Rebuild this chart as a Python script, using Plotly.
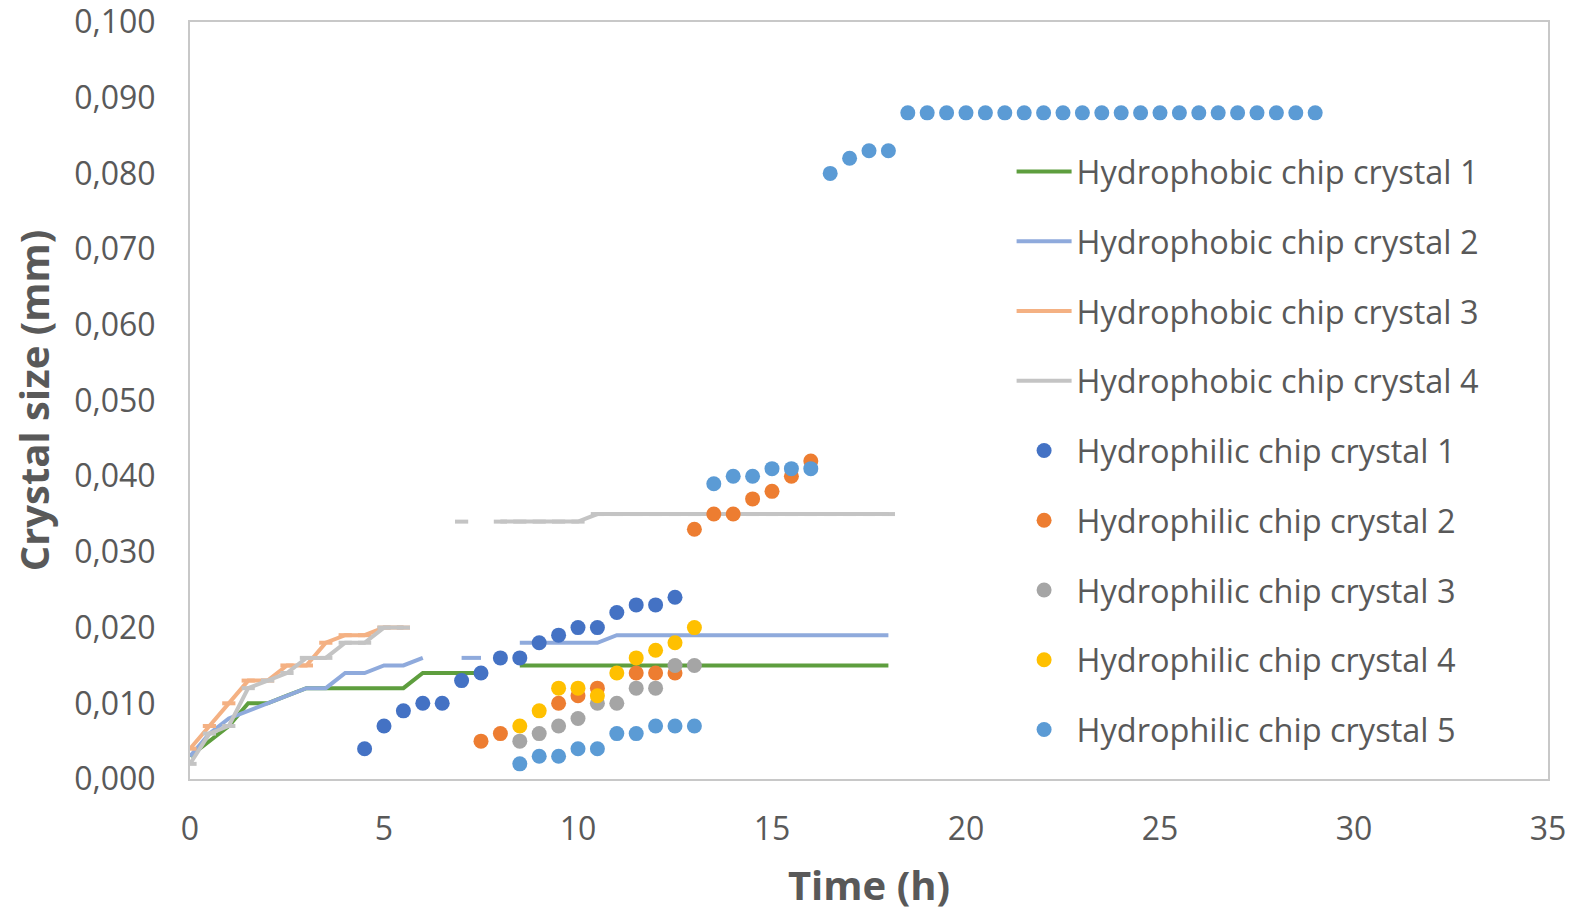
import plotly.graph_objects as go

# ---- hydrophobic chip (lines), sampled every 0.5 h ----
t_phobic = [0.0, 0.5, 1.0, 1.5, 2.0, 2.5, 3.0, 3.5, 4.0, 4.5, 5.0, 5.5, 6.0, 6.5,
            7.0, 7.5, 8.0, 8.5, 9.0, 9.5, 10.0, 10.5, 11.0, 11.5, 12.0, 12.5, 13.0,
            13.5, 14.0, 14.5, 15.0, 15.5, 16.0, 16.5, 17.0, 17.5, 18.0]

phobic_1 = [0.003, 0.005, 0.007, 0.010, 0.010, 0.011, 0.012, 0.012, 0.012, 0.012,
            0.012, 0.012, 0.014, 0.014, 0.014, 0.014, None, 0.015, 0.015, 0.015,
            0.015, 0.015, 0.015, 0.015, 0.015, 0.015, 0.015, 0.015, 0.015, 0.015,
            0.015, 0.015, 0.015, 0.015, 0.015, 0.015, 0.015]

phobic_2 = [0.003, 0.006, 0.008, 0.009, 0.010, 0.011, 0.012, 0.012, 0.014, 0.014,
            0.015, 0.015, 0.016, None, 0.016, 0.016, None, 0.018, 0.018, 0.018,
            0.018, 0.018, 0.019, 0.019, 0.019, 0.019, 0.019, 0.019, 0.019, 0.019,
            0.019, 0.019, 0.019, 0.019, 0.019, 0.019, 0.019]

t_phobic_3 = [0.0, 0.5, 1.0, 1.5, 2.0, 2.5, 3.0, 3.5, 4.0, 4.5, 5.0, 5.5]
phobic_3 = [0.004, 0.007, 0.010, 0.013, 0.013, 0.015, 0.015, 0.018, 0.019, 0.019,
            0.020, 0.020]

phobic_4 = [0.002, 0.006, 0.007, 0.012, 0.013, 0.014, 0.016, 0.016, 0.018, 0.018,
            0.020, 0.020, None, None, 0.034, None, 0.034, 0.034, 0.034, 0.034,
            0.034, 0.035, 0.035, 0.035, 0.035, 0.035, 0.035, 0.035, 0.035, 0.035,
            0.035, 0.035, 0.035, 0.035, 0.035, 0.035, 0.035]

# half-width of the time window for each reading (h)
time_window = 0.17

# ---- hydrophilic chip (markers) ----
t_philic_1 = [4.5, 5.0, 5.5, 6.0, 6.5, 7.0, 7.5, 8.0, 8.5, 9.0, 9.5, 10.0, 10.5,
              11.0, 11.5, 12.0, 12.5]
philic_1 = [0.004, 0.007, 0.009, 0.010, 0.010, 0.013, 0.014, 0.016, 0.016, 0.018,
            0.019, 0.020, 0.020, 0.022, 0.023, 0.023, 0.024]

t_philic_2 = [7.5, 8.0, 8.5, 9.0, 9.5, 10.0, 10.5, 11.0, 11.5, 12.0, 12.5, 13.0,
              13.5, 14.0, 14.5, 15.0, 15.5, 16.0]
philic_2 = [0.005, 0.006, None, None, 0.010, 0.011, 0.012, None, 0.014, 0.014,
            0.014, 0.033, 0.035, 0.035, 0.037, 0.038, 0.040, 0.042]

t_philic_34 = [8.5, 9.0, 9.5, 10.0, 10.5, 11.0, 11.5, 12.0, 12.5, 13.0]
philic_3 = [0.005, 0.006, 0.007, 0.008, 0.010, 0.010, 0.012, 0.012, 0.015, 0.015]
philic_4 = [0.007, 0.009, 0.012, 0.012, 0.011, 0.014, 0.016, 0.017, 0.018, 0.020]

t_philic_5 = [8.5, 9.0, 9.5, 10.0, 10.5, 11.0, 11.5, 12.0, 12.5, 13.0, 13.5, 14.0,
              14.5, 15.0, 15.5, 16.0, 16.5, 17.0, 17.5, 18.0, 18.5, 19.0, 19.5,
              20.0, 20.5, 21.0, 21.5, 22.0, 22.5, 23.0, 23.5, 24.0, 24.5, 25.0,
              25.5, 26.0, 26.5, 27.0, 27.5, 28.0, 28.5, 29.0]
philic_5 = [0.002, 0.003, 0.003, 0.004, 0.004, 0.006, 0.006, 0.007, 0.007, 0.007,
            0.039, 0.040, 0.040, 0.041, 0.041, 0.041, 0.080, 0.082, 0.083, 0.083,
            0.088, 0.088, 0.088, 0.088, 0.088, 0.088, 0.088, 0.088, 0.088, 0.088,
            0.088, 0.088, 0.088, 0.088, 0.088, 0.088, 0.088, 0.088, 0.088, 0.088,
            0.088, 0.088]

TEXT = "#595959"
LINE_W = 4
MARKER = 15
TITLE_FONT = "Liberation Sans Narrow, Open Sans, sans-serif"

fig = go.Figure()


def add_line(name, x, y, color, window=None):
    kw = {}
    if window is not None:
        kw["error_x"] = dict(type="constant", value=window, color=color,
                             thickness=LINE_W, width=0)
    fig.add_trace(go.Scatter(x=x, y=y, name=name, mode="lines",
                             line=dict(color=color, width=LINE_W),
                             legendgroup=name, connectgaps=False, **kw))


def add_dots(name, x, y, color):
    fig.add_trace(go.Scatter(x=x, y=y, name=name, mode="markers",
                             marker=dict(color=color, size=MARKER,
                                         line=dict(width=0)),
                             legendgroup=name))


add_line("Hydrophobic chip crystal 1", t_phobic, phobic_1, "#5E9E3E")
add_line("Hydrophobic chip crystal 2", t_phobic, phobic_2, "#8FAADC")
add_line("Hydrophobic chip crystal 3", t_phobic_3, phobic_3, "#F4B183", time_window)
add_line("Hydrophobic chip crystal 4", t_phobic, phobic_4, "#C4C4C4", time_window)

add_dots("Hydrophilic chip crystal 1", t_philic_1, philic_1, "#4472C4")
add_dots("Hydrophilic chip crystal 2", t_philic_2, philic_2, "#ED7D31")
add_dots("Hydrophilic chip crystal 3", t_philic_34, philic_3, "#A5A5A5")
add_dots("Hydrophilic chip crystal 4", t_philic_34, philic_4, "#FFC000")
add_dots("Hydrophilic chip crystal 5", t_philic_5, philic_5, "#5B9BD5")

axis_common = dict(showgrid=False, zeroline=False, showline=True, mirror=True,
                   linecolor="#C8C8C8", linewidth=2, ticks="",
                   ticklabeloverflow="allow",
                   tickfont=dict(family="Open Sans, sans-serif", size=32, color=TEXT))

fig.update_xaxes(range=[0, 35], dtick=5, tick0=0, ticklabelstandoff=21,
                 title=dict(text="<b>Time (h)</b>", standoff=34,
                            font=dict(family=TITLE_FONT, size=40, color=TEXT)),
                 **axis_common)
fig.update_yaxes(range=[0, 0.1], dtick=0.01, tick0=0, tickformat=".3f",
                 ticklabelstandoff=26,
                 title=dict(text="<b>Crystal size (mm)</b>", standoff=12,
                            font=dict(family=TITLE_FONT, size=40, color=TEXT)),
                 **axis_common)

fig.update_layout(
    width=1575, height=912,
    margin=dict(l=190, r=27, t=22, b=133, autoexpand=False),
    paper_bgcolor="white", plot_bgcolor="white",
    separators=",.",
    showlegend=True,
    legend=dict(x=0.605, y=0.839, xanchor="left", yanchor="top",
                bgcolor="rgba(0,0,0,0)", borderwidth=0,
                font=dict(family="Open Sans, sans-serif", size=32.5, color=TEXT),
                tracegroupgap=24.5, itemwidth=55, itemsizing="trace"),
)

fig.write_html("out.html")
